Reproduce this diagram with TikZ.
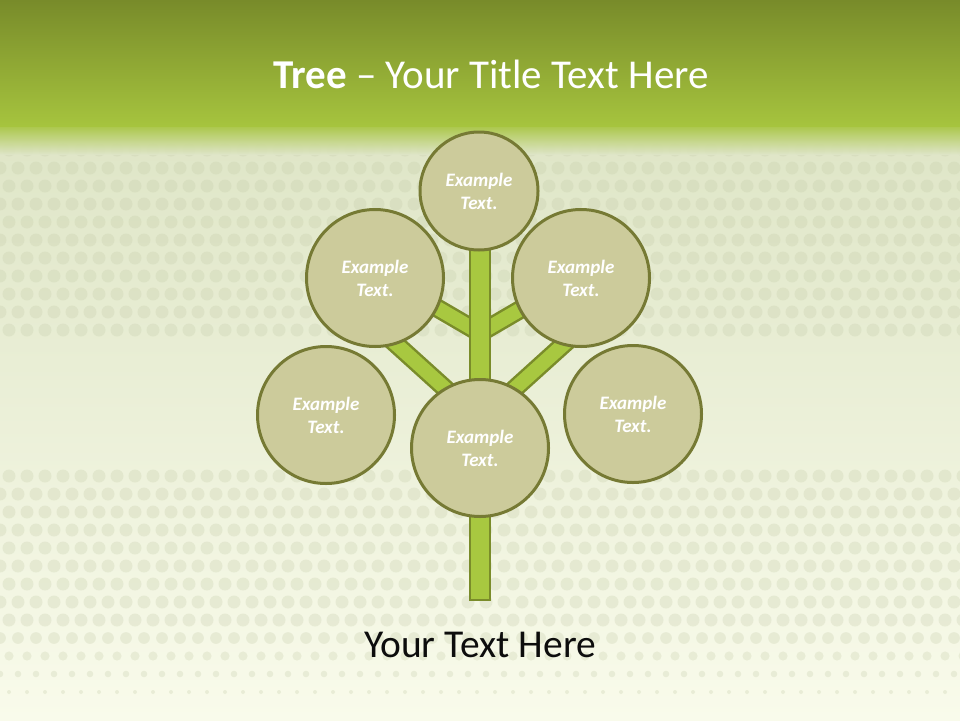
\documentclass[tikz,border=0pt]{standalone}
\usepackage{fontspec}
\setmainfont{Carlito}

\definecolor{bandtop}{RGB}{120,139,42}
\definecolor{bandlow}{RGB}{166,196,62}
\definecolor{paletop}{RGB}{222,229,198}
\definecolor{palelow}{RGB}{249,251,235}
\definecolor{dotcol}{RGB}{196,203,168}
\definecolor{leaffill}{RGB}{204,203,155}
\definecolor{leafline}{RGB}{118,122,52}
\definecolor{stemfill}{RGB}{168,200,64}
\definecolor{stemline}{RGB}{122,140,42}

\begin{document}
\begin{tikzpicture}[x=1pt,y=-1pt]
        \useasboundingbox (0,0) rectangle (960,720);
        % background
        \shade[top color=paletop, bottom color=palelow] (0,120) rectangle (960,720);
        \begin{scope}[fill=dotcol, fill opacity=0.28]
            \foreach \yy [count=\rowno] in {150,168,...,330} {
                \pgfmathsetmacro\shift{9*mod(\rowno,2)}
                \foreach \xx in {0,18,...,960}
                    \fill (\xx+\shift,\yy) circle[radius=6.5pt];
            }
            \foreach \yy [count=\rowno] in {476,494,...,700} {
                \pgfmathsetmacro\shift{9*mod(\rowno,2)}
                \pgfmathsetmacro\rad{min(6.5,(720-\yy)/14)}
                \foreach \xx in {0,18,...,960}
                    \fill (\xx+\shift,\yy) circle[radius=\rad pt];
            }
        \end{scope}
        \shade[top color=bandtop, bottom color=bandlow] (0,0) rectangle (960,126);
        \shade[top color=bandlow, bottom color=paletop, fill opacity=0.9] (0,126) rectangle (960,154);

        \tikzstyle{every node}=[inner sep=0pt]
        \node[text=white, anchor=base, font=\fontsize{41}{48}\selectfont] (title) at (491,88) {\textbf{Tree} -- Your Title Text Here};

        % trunk and branches
        \tikzstyle{branch}=[draw=stemline, line width=2.5pt, double=stemfill, double distance=14pt]
        \coordinate (fork1) at (480,333);
        \coordinate (fork2) at (480,420);
        \coordinate (twig1) at (420,298);
        \coordinate (twig2) at (540,298);
        \coordinate (bough1) at (386,335);
        \coordinate (bough2) at (574,335);
        \draw[branch] (fork1) -- (twig1);
        \draw[branch] (fork1) -- (twig2);
        \draw[branch] (fork2) -- (bough1);
        \draw[branch] (fork2) -- (bough2);
        \node[draw=stemline, fill=stemfill, line width=2.5pt, minimum width=20pt, minimum height=360pt] (trunk) at (480,420) {};

        % leaves
        \tikzstyle{bubble}=[circle, draw=leafline, fill=leaffill, line width=3pt, minimum size=137pt,
            text=white, align=center, font=\fontsize{19}{23}\selectfont\bfseries\itshape]
        \node[bubble, minimum size=118pt] (top) at (479,191) {Example\\Text.};
        \node[bubble] (upleft)  at (375,278) {Example\\Text.};
        \node[bubble] (upright) at (581,278) {Example\\Text.};
        \node[bubble] (lowleft)  at (326,415) {Example\\Text.};
        \node[bubble] (lowright) at (633,414) {Example\\Text.};
        \node[bubble] (mid)     at (480,448) {Example\\Text.};

        \node[anchor=base, text=black!95, font=\fontsize{39.5}{46}\selectfont] (caption) at (480,657) {Your Text Here};
\end{tikzpicture}
\end{document}
